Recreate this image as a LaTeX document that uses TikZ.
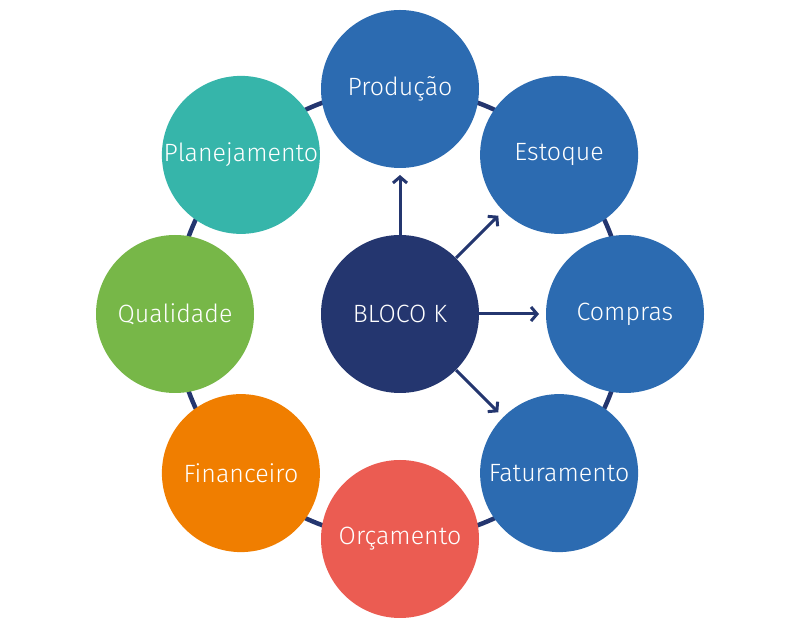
\documentclass[tikz,border=0pt]{standalone}
\usepackage{fontspec}
\setmainfont{Fira Sans Light}
\usetikzlibrary{arrows.meta}
\definecolor{navy}{HTML}{24366F}
\definecolor{cblue}{HTML}{2C6BB1}
\definecolor{cteal}{HTML}{36B5AA}
\definecolor{cgreen}{HTML}{77B748}
\definecolor{corange}{HTML}{F07E00}
\definecolor{cred}{HTML}{EB5C52}
\begin{document}
\begin{tikzpicture}[x=1pt,y=1pt,
  bubble/.style={circle,minimum size=158pt,inner sep=0pt,text=white,
    font=\fontsize{25}{25}\selectfont},
  ring/.style={draw=navy,line width=4.5pt},
  arr/.style={draw=navy,line width=3pt,-{Straight Barb[length=6pt,width=14pt,line width=3pt]}}]
\useasboundingbox (0,0) rectangle (801,629);
\begin{scope}[shift={(400,315)}]
\draw[ring] (0,0) circle[radius=225];
\node[bubble,fill=navy] (bloco) at (0,0) {BLOCO K};
\node[bubble,fill=cblue] (prod) at (90:225) {Produção};
\node[bubble,fill=cblue] (esto) at (45:225) {Estoque};
\node[bubble,fill=cblue] (comp) at (0:225) {Compras};
\node[bubble,fill=cblue] (fatu) at (-45:225) {Faturamento};
\node[bubble,fill=cred] (orca) at (-90:225) {Orçamento};
\node[bubble,fill=corange] (fina) at (-135:225) {Financeiro};
\node[bubble,fill=cgreen] (qual) at (180:225) {Qualidade};
\node[bubble,fill=cteal] (plan) at (135:225) {Planejamento};
\coordinate (tp) at (90:139);
\coordinate (te) at (45:139);
\coordinate (tc) at (0:139);
\coordinate (tf) at (-45:139);
\end{scope}
\draw[arr] (bloco.90) -- (tp);
\draw[arr] (bloco.45) -- (te);
\draw[arr] (bloco.0) -- (tc);
\draw[arr] (bloco.-45) -- (tf);
\end{tikzpicture}
\end{document}
